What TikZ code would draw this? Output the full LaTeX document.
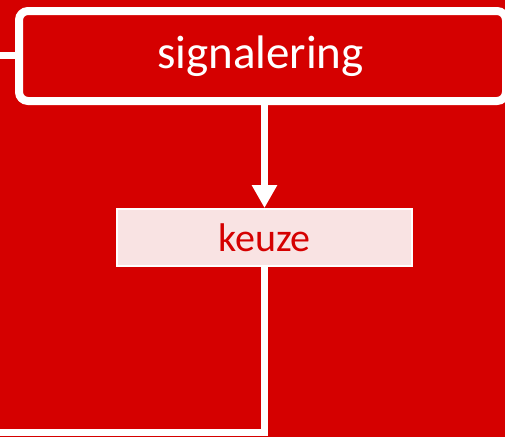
\documentclass[tikz,border=0pt]{standalone}
\usepackage{fontspec}
\setmainfont{Carlito}
\usetikzlibrary{arrows.meta}
\definecolor{bgred}{HTML}{D50000}
\definecolor{pinkfill}{HTML}{F9E3E3}
\tikzset{
  mainbox/.style={draw=white, line width=8pt, rounded corners=9pt, minimum width=487pt, minimum height=90pt, inner sep=0pt, text=white, font=\fontsize{47}{52}\selectfont},
  subbox/.style={draw=white, fill=pinkfill, line width=2pt, minimum width=295pt, minimum height=57pt, inner sep=0pt, text=bgred, font=\fontsize{40}{44}\selectfont},
  conn/.style={draw=white, line width=7pt},
  arr/.style={conn, -{Triangle[width=24pt,length=23pt]}}
}
\begin{document}
\begin{tikzpicture}[x=1pt,y=-1pt]
  \fill[bgred] (0,0) rectangle (505,437);
  \useasboundingbox (0,0) rectangle (505,437);
  \begin{scope}
  \clip (0,0) rectangle (505,437);
  \node[mainbox] (sig) at (262.5,56) {\raisebox{-2pt}{\hspace*{-4pt}signalering}};
  \end{scope}
  \node[subbox] (keuze) at (264.5,237.5) {\raisebox{-1pt}{keuze}};
  \coordinate (leftin) at (0,55);
  \coordinate (corner) at (keuze.south |- 0,432);
  \coordinate (leftout) at (0,432);
  \draw[conn] (leftin) -- (sig.west |- leftin);
  \draw[arr] (sig.south -| keuze.north) -- (keuze.north);
  \draw[conn] (keuze.south) -- (corner) -- (leftout);
\end{tikzpicture}
\end{document}
